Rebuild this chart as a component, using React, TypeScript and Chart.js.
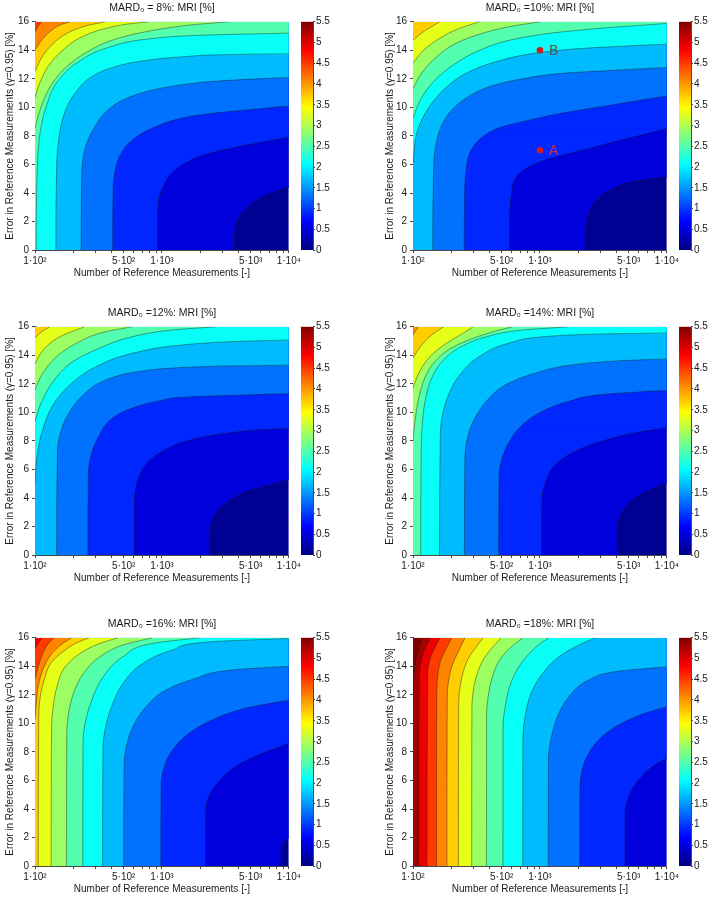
import React, { useEffect, useRef } from 'react';
import { Chart, registerables } from 'chart.js';

Chart.register(...registerables);

// ---------------- data ----------------
const X_MIN = 100;
const X_MAX = 10000;
const Y_MIN = 0;
const Y_MAX = 16;
const Y_STEP = 2;
const X_MAJOR_TICKS = [100, 500, 1000, 5000, 10000];
const X_MAJOR_LABELS = ['1·10²', '5·10²', '1·10³', '5·10³', '1·10⁴'];
const X_MINOR_TICKS = [200, 300, 400, 600, 700, 800, 900, 2000, 3000, 4000, 6000, 7000, 8000, 9000];
const CBAR_MIN = 0;
const CBAR_MAX = 5.5;
const CBAR_STEP = 0.5;
const LEVEL_STEP = 0.4; // MRI spacing between filled contour levels

const TITLES = [
  'MARD₀ = 8%: MRI [%]',
  'MARD₀ =10%: MRI [%]',
  'MARD₀ =12%: MRI [%]',
  'MARD₀ =14%: MRI [%]',
  'MARD₀ =16%: MRI [%]',
  'MARD₀ =18%: MRI [%]',
];
const X_TITLE = 'Number of Reference Measurements [-]';
const Y_TITLE = 'Error in Reference Measurements (γ=0.95) [%]';

// contour lines: [number of measurements, error %]; *_BASE = level index of the lowest region
const MARD8_BASE = 0;
const MARD8_LINES = [
  [[3720, 0], [3750, 1.3], [3950, 2.1], [4600, 2.9], [5800, 3.6], [7800, 4.1], [10000, 4.4]],
  [[920, 0], [925, 2.6], [950, 3.7], [1040, 4.6], [1200, 5.4], [1530, 6.1], [2200, 6.7], [3550, 7.15], [6000, 7.55], [10000, 7.9]],
  [[409, 0], [412, 4.0], [425, 5.4], [460, 6.5], [550, 7.5], [700, 8.2], [950, 8.75], [1450, 9.25], [2600, 9.6], [5100, 9.85], [10000, 10.1]],
  [[231, 0], [233, 5.0], [240, 6.5], [256, 7.5], [294, 8.6], [363, 9.7], [490, 10.5], [750, 11.1], [1360, 11.55], [2800, 11.85], [10000, 12.1]],
  [[146, 0], [148, 5.8], [152, 7.4], [162, 8.9], [180, 10.1], [215, 11.2], [280, 12.15], [410, 12.8], [700, 13.25], [1500, 13.55], [3500, 13.7], [10000, 13.75]],
  [[102, 0], [103, 4.0], [105, 6.5], [110, 8.3], [122, 10.0], [150, 11.8], [220, 13.2], [380, 14.2], [800, 14.8], [2000, 15.05], [10000, 15.2]],
  [[100, 8.5], [106, 9.4], [118, 10.6], [140, 11.8], [180, 12.9], [260, 13.9], [420, 14.75], [800, 15.35], [1600, 15.75], [3400, 16]],
  [[100, 10.7], [110, 11.8], [130, 13.0], [165, 14.0], [230, 14.9], [350, 15.5], [550, 15.85], [800, 16]],
  [[100, 12.5], [115, 13.6], [140, 14.5], [180, 15.2], [250, 15.7], [357, 16]],
  [[100, 14.0], [115, 14.8], [135, 15.4], [160, 15.8], [190, 16]],
  [[100, 15.3], [106, 15.7], [113, 16]],
];

const MARD10_BASE = 0;
const MARD10_LINES = [
  [[2300, 0], [2320, 1.6], [2450, 2.6], [2800, 3.5], [3600, 4.2], [5500, 4.8], [10000, 5.15]],
  [[574, 0], [578, 2.5], [595, 3.8], [648, 5.1], [823, 5.85], [1180, 6.4], [2150, 7.0], [3900, 7.6], [6500, 8.1], [10000, 8.5]],
  [[253, 0], [256, 4.5], [262, 5.6], [280, 6.8], [356, 7.95], [509, 8.65], [822, 9.1], [1500, 9.6], [3060, 10.05], [10000, 10.8]],
  [[143, 0], [145, 5.2], [154, 7.7], [184, 9.35], [248, 10.5], [401, 11.45], [729, 12.0], [1587, 12.4], [3890, 12.6], [10000, 12.8]],
  [[100, 6.07], [107, 8.2], [129, 9.8], [173, 11.2], [264, 12.4], [452, 13.2], [928, 13.8], [2155, 14.13], [10000, 14.43]],
  [[100, 9.2], [114, 10.5], [145, 11.8], [207, 12.96], [335, 14.0], [575, 14.7], [1180, 15.18], [2900, 15.53], [10000, 15.88]],
  [[100, 11.3], [117, 12.4], [154, 13.55], [220, 14.5], [356, 15.2], [575, 15.65], [1015, 16]],
  [[100, 13.1], [121, 14.0], [163, 14.85], [235, 15.55], [335, 16]],
  [[100, 14.7], [121, 15.3], [163, 16]],
];

const MARD12_BASE = 0;
const MARD12_LINES = [
  [[2400, 0], [2420, 1.9], [2624, 2.84], [3334, 3.77], [4775, 4.47], [10000, 5.29]],
  [[605, 0], [608, 4.0], [641, 5.17], [745, 6.33], [1006, 7.27], [1531, 7.97], [2624, 8.43], [5082, 8.73], [10000, 8.9]],
  [[261, 0], [263, 5.6], [277, 7.03], [322, 8.43], [409, 9.6], [586, 10.3], [948, 10.8], [1726, 11.1], [3990, 11.2], [10000, 11.32]],
  [[148, 0], [150, 7.0], [157, 8.43], [182, 9.83], [239, 11.2], [363, 12.27], [661, 12.86], [1442, 13.14], [3540, 13.25], [10000, 13.3]],
  [[100, 4.94], [104, 7.03], [116, 8.9], [139, 10.53], [188, 11.92], [303, 13.2], [586, 14.14], [1442, 14.72], [3540, 14.95], [10000, 15.07]],
  [[100, 9.36], [113, 10.76], [139, 12.16], [199, 13.56], [322, 14.49], [586, 15.3], [1204, 15.77], [2704, 16]],
  [[100, 11.57], [113, 12.62], [148, 13.9], [212, 14.84], [342, 15.6], [587, 16]],
  [[100, 13.4], [116, 14.37], [157, 15.3], [246, 16]],
  [[100, 15.2], [113, 15.65], [131, 16]],
];

const MARD14_BASE = 0;
const MARD14_LINES = [
  [[4100, 0], [4130, 1.93], [4677, 3.33], [6300, 4.26], [10000, 5.08]],
  [[1030, 0], [1035, 3.8], [1114, 5.19], [1333, 6.36], [1906, 7.29], [3076, 7.99], [5600, 8.57], [10000, 8.92]],
  [[473, 0], [476, 5.43], [497, 6.59], [577, 7.99], [733, 9.15], [1050, 10.08], [1693, 10.78], [3076, 11.25], [10000, 11.55]],
  [[254, 0], [256, 6.59], [265, 7.99], [299, 9.39], [379, 10.78], [543, 11.95], [930, 12.76], [1906, 13.35], [4400, 13.62], [10000, 13.74]],
  [[162, 0], [164, 8.2], [169, 9.62], [191, 11.25], [235, 12.65], [336, 13.93], [577, 14.86], [1183, 15.33], [3076, 15.49], [10000, 15.56]],
  [[115, 0], [116, 7.5], [119, 9.5], [126, 11.0], [142, 12.5], [175, 13.7], [240, 14.6], [380, 15.3], [700, 15.75], [1694, 16]],
  [[100, 8.0], [104, 9.5], [111, 11.0], [125, 12.5], [150, 13.6], [200, 14.5], [300, 15.2], [450, 15.7], [612, 16]],
  [[100, 11.7], [111, 12.76], [137, 13.93], [185, 14.86], [250, 15.56], [299, 16]],
  [[100, 13.8], [115, 14.63], [141, 15.44], [175, 16]],
  [[100, 15.4], [105, 15.72], [111, 16]],
];

const MARD16_BASE = 0;
const MARD16_LINES = [
  [[8700, 0], [8800, 1.3], [9400, 1.8], [10000, 2.0]],
  [[2203, 0], [2215, 3.7], [2339, 4.86], [2800, 5.91], [3775, 6.96], [5730, 7.78], [10000, 8.6]],
  [[981, 0], [985, 5.56], [1042, 6.96], [1211, 8.13], [1633, 9.3], [2483, 10.23], [4520, 11.05], [10000, 11.63]],
  [[500, 0], [503, 6.96], [524, 8.36], [590, 9.76], [750, 11.17], [1074, 12.33], [1841, 13.15], [3555, 13.74], [10000, 14.0]],
  [[341, 0], [343, 8.13], [356, 9.53], [401, 11.17], [494, 12.8], [707, 14.2], [1211, 15.14], [2483, 15.72], [10000, 15.95]],
  [[238, 0], [239, 8.6], [248, 10.0], [280, 11.63], [345, 13.27], [494, 14.67], [845, 15.6], [2014, 16]],
  [[177, 0], [178, 9.3], [184, 10.7], [201, 12.1], [241, 13.5], [325, 14.67], [494, 15.49], [845, 16]],
  [[134, 0], [135, 9.76], [139, 11.17], [149, 12.57], [173, 13.97], [227, 14.9], [315, 15.56], [452, 16]],
  [[106, 0], [107, 10.47], [109, 11.63], [118, 13.03], [136, 14.32], [173, 15.14], [214, 15.65], [268, 16]],
  [[100, 10.3], [103, 11.63], [107, 12.8], [118, 13.97], [136, 14.9], [163, 15.56], [195, 16]],
  [[100, 13.1], [106, 13.97], [114, 14.8], [125, 15.5], [141, 16]],
  [[100, 15.2], [104, 15.5], [114, 16]],
];

const MARD18_BASE = 1;
const MARD18_LINES = [
  [[4677, 0], [4690, 3.7], [5117, 5.09], [6310, 6.26], [8017, 7.08], [10000, 7.55]],
  [[2060, 0], [2070, 5.56], [2148, 6.73], [2420, 7.9], [3076, 9.06], [4404, 10.0], [6695, 10.7], [10000, 11.17]],
  [[1162, 0], [1165, 7.43], [1219, 8.83], [1374, 10.47], [1694, 11.87], [2420, 13.03], [3905, 13.62], [10000, 13.97]],
  [[732, 0], [734, 8.83], [764, 10.47], [851, 12.1], [1050, 13.5], [1415, 14.67], [2025, 15.49], [2730, 16]],
  [[511, 0], [512, 9.76], [533, 11.17], [577, 12.57], [670, 13.85], [826, 14.9], [1050, 15.72], [1183, 16]],
  [[379, 0], [380, 10.47], [391, 11.87], [423, 13.27], [482, 14.44], [577, 15.25], [732, 16]],
  [[290, 0], [291, 10.93], [299, 12.33], [321, 13.5], [357, 14.44], [415, 15.25], [497, 16]],
  [[228, 0], [229, 11.4], [235, 12.57], [249, 13.62], [273, 14.55], [308, 15.25], [357, 16]],
  [[185, 0], [186, 11.87], [191, 13.03], [202, 13.97], [221, 14.79], [257, 16]],
  [[153, 0], [154, 12.33], [157, 13.38], [164, 14.32], [180, 15.14], [202, 16]],
  [[129, 0], [130, 12.8], [132, 13.97], [141, 14.9], [164, 16]],
  [[111, 0], [112, 13.03], [115, 14.2], [123, 15.14], [137, 16]],
  [[100, 11.5], [103, 13.97], [108, 14.9], [118, 16]],
];

// marked points in the MARD0 = 10% panel
const MARKER_LABELS = ['B', 'A'];
const MARKER_X = [1000, 1000];
const MARKER_Y = [14, 7];

const PANELS = [
  { title: TITLES[0], base: MARD8_BASE, lines: MARD8_LINES, markers: false },
  { title: TITLES[1], base: MARD10_BASE, lines: MARD10_LINES, markers: true },
  { title: TITLES[2], base: MARD12_BASE, lines: MARD12_LINES, markers: false },
  { title: TITLES[3], base: MARD14_BASE, lines: MARD14_LINES, markers: false },
  { title: TITLES[4], base: MARD16_BASE, lines: MARD16_LINES, markers: false },
  { title: TITLES[5], base: MARD18_BASE, lines: MARD18_LINES, markers: false },
];

// ---------------- styles ----------------
const FONT = "'Liberation Sans', Arial, Helvetica, sans-serif";
const TEXT = '#1a1a1a';
const AXIS = '#4a4a4a';
const LINE_COLOR = 'rgba(25,25,25,0.6)';
const CANVAS_W = 303;
const CANVAS_H = 283;
const CANVAS_LEFT = [0, 378];
const CANVAS_TOP = [0, 305, 616];
const CBAR_LEFT = [301, 679];
const CBAR_W = 42;
const Y_AXIS_W = 35;
const PLOT_W = 256;
const TITLE_PAD = { top: 1.5, bottom: 7.6 };
const PLOT_TOP = 21.7;
const X_AXIS_H = 32.9;
const MARKER_COLORS = ['#555555', '#d0304a'];
const COLOR_OFFSET = 0.25; // position of a band's colour inside its level interval

const JET_STOPS: [number, number, number, number][] = [
  [0, 0, 0, 0.5],
  [0.125, 0, 0, 1],
  [0.375, 0, 1, 1],
  [0.625, 1, 1, 0],
  [0.875, 1, 0, 0],
  [1, 0.5, 0, 0],
];

function clamp01(v: number) {
  return Math.max(0, Math.min(1, v));
}
function jet(v: number): [number, number, number] {
  const t = clamp01((v - CBAR_MIN) / (CBAR_MAX - CBAR_MIN));
  return [
    clamp01(1.5 - Math.abs(4 * t - 3)),
    clamp01(1.5 - Math.abs(4 * t - 2)),
    clamp01(1.5 - Math.abs(4 * t - 1)),
  ];
}
function rgb(c: number[]) {
  return `rgb(${Math.round(c[0] * 255)},${Math.round(c[1] * 255)},${Math.round(c[2] * 255)})`;
}
function levelColor(k: number) {
  return rgb(jet((k + COLOR_OFFSET) * LEVEL_STEP));
}

const markerLabelPlugin = {
  id: 'markerLabels',
  afterDatasetsDraw(chart: any) {
    chart.data.datasets.forEach((ds: any, i: number) => {
      if (!ds.isMarkers) return;
      const meta = chart.getDatasetMeta(i);
      const ctx = chart.ctx;
      ctx.save();
      ctx.font = `14px ${FONT}`;
      ctx.textAlign = 'left';
      ctx.textBaseline = 'middle';
      meta.data.forEach((el: any, k: number) => {
        ctx.fillStyle = MARKER_COLORS[k];
        ctx.fillText(MARKER_LABELS[k], el.x + 9, el.y + 1);
      });
      ctx.restore();
    });
  },
};

function mainConfig(p: any, col: number): any {
  const datasets: any[] = [];
  // lowest level fills the whole plot
  datasets.push({
    data: [
      { x: X_MAX, y: Y_MIN },
      { x: X_MAX, y: Y_MAX },
    ],
    fill: { value: X_MIN },
    backgroundColor: levelColor(p.base),
    borderWidth: 0,
    pointRadius: 0,
  });
  p.lines.forEach((line: number[][], j: number) => {
    const color = levelColor(p.base + j + 1);
    const last = line[line.length - 1];
    if (last[0] >= X_MAX && last[1] < Y_MAX) {
      // whole width above the point where the contour leaves through the right edge
      datasets.push({
        indexAxis: 'x',
        data: [
          { x: X_MIN, y: last[1] },
          { x: X_MAX, y: last[1] },
        ],
        fill: { value: Y_MAX },
        backgroundColor: color,
        borderColor: color,
        borderWidth: 1.2,
        pointRadius: 0,
      });
    }
    datasets.push({
      data: line.map(([x, y]) => ({ x, y })),
      fill: { value: X_MIN },
      backgroundColor: color,
      borderColor: LINE_COLOR,
      borderWidth: 0.7,
      pointRadius: 0,
      cubicInterpolationMode: 'monotone',
    });
  });
  if (p.markers) {
    datasets.push({
      isMarkers: true,
      data: MARKER_X.map((x, k) => ({ x, y: MARKER_Y[k] })),
      showLine: false,
      fill: false,
      pointRadius: 3.3,
      pointBackgroundColor: '#d41c1c',
      pointBorderWidth: 0,
      borderWidth: 0,
    });
  }
  const n = datasets.length;
  datasets.forEach((d, i) => {
    d.order = n - i;
  });

  const allTicks = [...X_MAJOR_TICKS, ...X_MINOR_TICKS].sort((a, b) => a - b);

  return {
    type: 'line',
    data: { datasets },
    plugins: [markerLabelPlugin],
    options: {
      indexAxis: 'y',
      responsive: false,
      animation: false,
      events: [],
      layout: { padding: { left: 0, right: CANVAS_W - Y_AXIS_W - PLOT_W, top: 0, bottom: 0 } },
      plugins: {
        legend: { display: false },
        tooltip: { enabled: false },
        title: {
          display: true,
          fullSize: false,
          text: p.title,
          color: TEXT,
          font: { size: 10.5, family: FONT, weight: 'normal' },
          padding: TITLE_PAD,
        },
      },
      scales: {
        x: {
          type: 'logarithmic',
          position: 'bottom',
          min: X_MIN,
          max: X_MAX,
          afterBuildTicks: (s: any) => {
            s.ticks = allTicks.map((v) => ({ value: v }));
          },
          afterFit: (s: any) => {
            s.height = X_AXIS_H;
          },
          ticks: {
            autoSkip: false,
            maxRotation: 0,
            minRotation: 0,
            padding: 2,
            color: TEXT,
            font: { size: 10, family: FONT },
            callback: (v: any) => {
              const i = X_MAJOR_TICKS.indexOf(Number(v));
              return i >= 0 ? X_MAJOR_LABELS[i] : '';
            },
          },
          grid: { drawOnChartArea: false, tickLength: 3, color: AXIS },
          border: { display: true, color: AXIS, width: 1 },
          title: {
            display: true,
            text: X_TITLE,
            color: TEXT,
            font: { size: 10, family: FONT },
            padding: { top: 0, bottom: 3.7 },
          },
        },
        y: {
          type: 'linear',
          position: 'left',
          min: Y_MIN,
          max: Y_MAX,
          afterFit: (s: any) => {
            s.width = Y_AXIS_W;
          },
          ticks: {
            stepSize: Y_STEP,
            padding: 3,
            color: TEXT,
            font: { size: 10, family: FONT },
          },
          grid: { drawOnChartArea: false, tickLength: 3, color: AXIS },
          border: { display: true, color: AXIS, width: 1 },
          title: {
            display: true,
            text: Y_TITLE,
            color: TEXT,
            font: { size: 10, family: FONT },
            padding: { top: col === 0 ? 4 : 6, bottom: 0 },
          },
        },
      },
    },
  };
}

function cbarConfig(): any {
  const ticks: number[] = [];
  for (let v = CBAR_MIN; v <= CBAR_MAX + 1e-9; v += CBAR_STEP) ticks.push(Math.round(v * 10) / 10);
  return {
    type: 'bar',
    data: {
      labels: [''],
      datasets: [
        {
          data: [[CBAR_MIN, CBAR_MAX]],
          backgroundColor: (ctx: any) => {
            const a = ctx.chart.chartArea;
            if (!a) return 'blue';
            const g = ctx.chart.ctx.createLinearGradient(0, a.bottom, 0, a.top);
            JET_STOPS.forEach(([t, r, gg, b]) => g.addColorStop(t, rgb([r, gg, b])));
            return g;
          },
          borderWidth: 0,
          categoryPercentage: 1,
          barPercentage: 1,
        },
      ],
    },
    options: {
      responsive: false,
      animation: false,
      events: [],
      layout: { padding: { left: 0, right: 0, top: PLOT_TOP, bottom: X_AXIS_H } },
      plugins: { legend: { display: false }, tooltip: { enabled: false } },
      scales: {
        x: { display: false },
        y: {
          position: 'right',
          min: CBAR_MIN,
          max: CBAR_MAX,
          afterFit: (s: any) => {
            s.width = CBAR_W - 12;
          },
          afterBuildTicks: (s: any) => {
            s.ticks = ticks.map((v) => ({ value: v }));
          },
          ticks: {
            padding: 1,
            color: TEXT,
            font: { size: 10, family: FONT },
            callback: (v: any) => String(v),
          },
          grid: { drawOnChartArea: false, tickLength: 2, color: AXIS },
          border: { display: true, color: AXIS, width: 1 },
        },
      },
    },
  };
}

export default function App() {
  const refs = useRef<(HTMLCanvasElement | null)[]>([]);

  useEffect(() => {
    const charts: Chart[] = [];
    PANELS.forEach((p, i) => {
      const col = i % 2;
      const main = refs.current[2 * i];
      const bar = refs.current[2 * i + 1];
      if (main) charts.push(new Chart(main, mainConfig(p, col)));
      if (bar) charts.push(new Chart(bar, cbarConfig()));
    });
    return () => charts.forEach((c) => c.destroy());
  }, []);

  return (
    <div
      style={{
        position: 'absolute',
        left: 0,
        top: 0,
        width: 711,
        height: 899,
        background: '#ffffff',
        overflow: 'hidden',
      }}
    >
      {PANELS.map((p, i) => {
        const col = i % 2;
        const row = Math.floor(i / 2);
        return (
          <React.Fragment key={i}>
            <canvas
              ref={(el) => {
                refs.current[2 * i] = el;
              }}
              width={CANVAS_W}
              height={CANVAS_H}
              style={{
                position: 'absolute',
                left: CANVAS_LEFT[col],
                top: CANVAS_TOP[row],
                width: CANVAS_W,
                height: CANVAS_H,
              }}
            />
            <canvas
              ref={(el) => {
                refs.current[2 * i + 1] = el;
              }}
              width={CBAR_W}
              height={CANVAS_H}
              style={{
                position: 'absolute',
                left: CBAR_LEFT[col],
                top: CANVAS_TOP[row],
                width: CBAR_W,
                height: CANVAS_H,
              }}
            />
          </React.Fragment>
        );
      })}
    </div>
  );
}
